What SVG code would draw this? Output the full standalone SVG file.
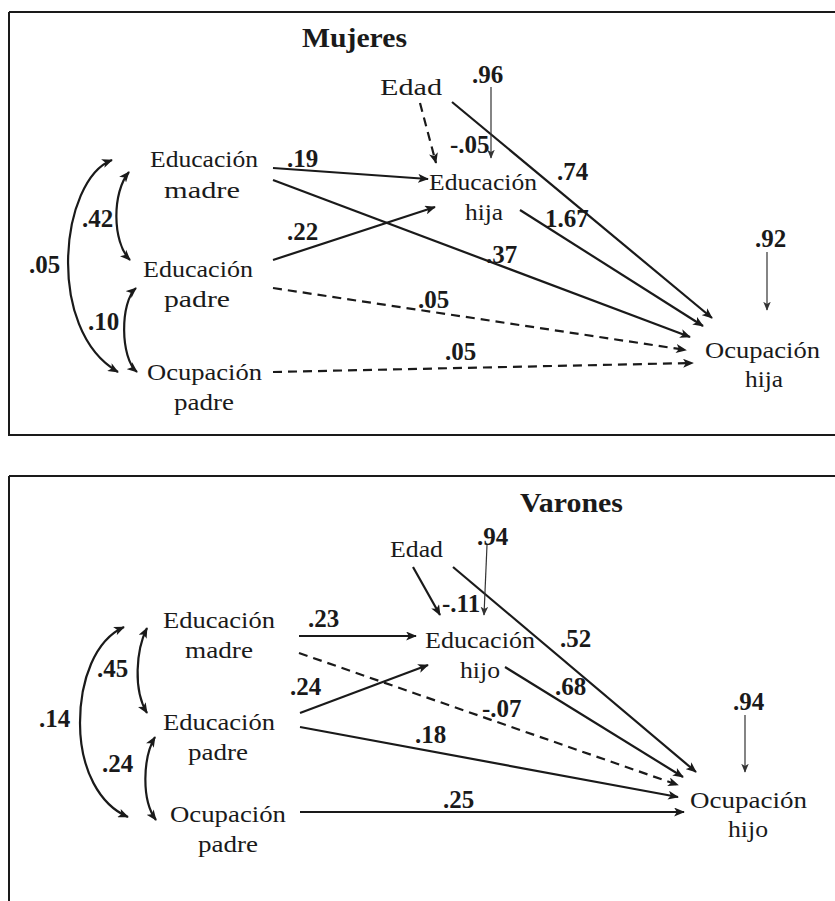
<svg xmlns="http://www.w3.org/2000/svg" width="835" height="901" viewBox="0 0 835 901">
<style>
.lbl{font-family:"Liberation Serif","Times New Roman",serif;font-size:23px;fill:#1a1a1a}
.num{font-family:"Liberation Serif","Times New Roman",serif;font-size:25px;font-weight:bold;fill:#1a1a1a}
.ttl{font-family:"Liberation Serif","Times New Roman",serif;font-size:28px;font-weight:bold;fill:#1a1a1a}
.frame{fill:none;stroke:#1a1a1a;stroke-width:2}
.e{fill:none;stroke:#1a1a1a;stroke-width:2.2}
.d{fill:none;stroke:#1a1a1a;stroke-width:2.2;stroke-dasharray:9 6}
.t{fill:none;stroke:#333;stroke-width:1.2}
</style>
<defs>
<marker id="ah" viewBox="0 0 12 10" markerWidth="11" markerHeight="9" refX="11" refY="5" orient="auto-start-reverse" markerUnits="userSpaceOnUse">
<path d="M0,0 L12,5 L0,10 L3,5 z" fill="#1a1a1a"/>
</marker>
<marker id="ahs" viewBox="0 0 12 10" markerWidth="9" markerHeight="8" refX="11" refY="5" orient="auto" markerUnits="userSpaceOnUse">
<path d="M0,0 L12,5 L0,10 L3,5 z" fill="#333"/>
</marker>
</defs>
<rect width="835" height="901" fill="#fff"/>

<!-- frames -->
<g id="frames">
<path class="frame" d="M9,12 H835 M9,12 V435 H835"/>
<path class="frame" d="M9,476 H835 M9,476 V901"/>
</g>

<!-- ===== Mujeres panel ===== -->
<g id="title-mujeres"><text class="ttl" x="302" y="47" textLength="105" lengthAdjust="spacingAndGlyphs">Mujeres</text></g>

<g id="m-edad"><text class="lbl" x="380" y="95" textLength="62" lengthAdjust="spacingAndGlyphs">Edad</text></g>
<g id="m-edu-madre">
<text class="lbl" x="150" y="167" textLength="108" lengthAdjust="spacingAndGlyphs">Educación</text>
<text class="lbl" x="164" y="198" textLength="76" lengthAdjust="spacingAndGlyphs">madre</text>
</g>
<g id="m-edu-padre">
<text class="lbl" x="143" y="277" textLength="110" lengthAdjust="spacingAndGlyphs">Educación</text>
<text class="lbl" x="164" y="307" textLength="66" lengthAdjust="spacingAndGlyphs">padre</text>
</g>
<g id="m-ocu-padre">
<text class="lbl" x="147" y="380" textLength="115" lengthAdjust="spacingAndGlyphs">Ocupación</text>
<text class="lbl" x="174" y="410" textLength="60" lengthAdjust="spacingAndGlyphs">padre</text>
</g>
<g id="m-edu-hija">
<text class="lbl" x="429" y="190" textLength="108" lengthAdjust="spacingAndGlyphs">Educación</text>
<text class="lbl" x="465" y="220" textLength="38" lengthAdjust="spacingAndGlyphs">hija</text>
</g>
<g id="m-ocu-hija">
<text class="lbl" x="705" y="358" textLength="115" lengthAdjust="spacingAndGlyphs">Ocupación</text>
<text class="lbl" x="745" y="387" textLength="38" lengthAdjust="spacingAndGlyphs">hija</text>
</g>

<g id="m-connectors">
<path class="e" d="M112,160 C60,180 45,330 118,372" marker-start="url(#ah)" marker-end="url(#ah)"/>
<path class="e" d="M129,172 C112,192 112,242 130,260" marker-start="url(#ah)" marker-end="url(#ah)"/>
<path class="e" d="M136,288 C120,302 120,358 137,372" marker-start="url(#ah)" marker-end="url(#ah)"/>
<path class="e" d="M273,168 L428,179" marker-end="url(#ah)"/>
<path class="e" d="M273,180 L690,337" marker-end="url(#ah)"/>
<path class="e" d="M273,260 L435,207" marker-end="url(#ah)"/>
<path class="d" d="M273,288 L686,350" marker-end="url(#ah)"/>
<path class="d" d="M273,372 L693,363" marker-end="url(#ah)"/>
<path class="d" d="M420,103 L436,163" marker-end="url(#ah)"/>
<path class="e" d="M452,102 L712,318" marker-end="url(#ah)"/>
<path class="e" d="M520,210 L703,326" marker-end="url(#ah)"/>
<path class="t" d="M491,87 L491,158" marker-end="url(#ahs)"/>
<path class="t" d="M767,252 L767,310" marker-end="url(#ahs)"/>
</g>

<g id="m-labels">
<text class="num" x="29" y="273">.05</text>
<text class="num" x="82" y="227">.42</text>
<text class="num" x="88" y="330">.10</text>
<text class="num" x="287" y="167">.19</text>
<text class="num" x="287" y="240">.22</text>
<text class="num" x="486" y="263">.37</text>
<text class="num" x="418" y="308">.05</text>
<text class="num" x="445" y="360">.05</text>
<text class="num" x="450" y="153">-.05</text>
<text class="num" x="472" y="83">.96</text>
<text class="num" x="557" y="180">.74</text>
<text class="num" x="545" y="227">1.67</text>
<text class="num" x="755" y="247">.92</text>
</g>

<!-- ===== Varones panel ===== -->
<g id="title-varones"><text class="ttl" x="520" y="512" textLength="103" lengthAdjust="spacingAndGlyphs">Varones</text></g>

<g id="v-edad"><text class="lbl" x="390" y="557" textLength="53" lengthAdjust="spacingAndGlyphs">Edad</text></g>
<g id="v-edu-madre">
<text class="lbl" x="163" y="628" textLength="112" lengthAdjust="spacingAndGlyphs">Educación</text>
<text class="lbl" x="185" y="658" textLength="68" lengthAdjust="spacingAndGlyphs">madre</text>
</g>
<g id="v-edu-padre">
<text class="lbl" x="163" y="730" textLength="112" lengthAdjust="spacingAndGlyphs">Educación</text>
<text class="lbl" x="188" y="760" textLength="60" lengthAdjust="spacingAndGlyphs">padre</text>
</g>
<g id="v-ocu-padre">
<text class="lbl" x="170" y="822" textLength="116" lengthAdjust="spacingAndGlyphs">Ocupación</text>
<text class="lbl" x="198" y="852" textLength="60" lengthAdjust="spacingAndGlyphs">padre</text>
</g>
<g id="v-edu-hijo">
<text class="lbl" x="425" y="648" textLength="110" lengthAdjust="spacingAndGlyphs">Educación</text>
<text class="lbl" x="460" y="678" textLength="40" lengthAdjust="spacingAndGlyphs">hijo</text>
</g>
<g id="v-ocu-hijo">
<text class="lbl" x="690" y="808" textLength="117" lengthAdjust="spacingAndGlyphs">Ocupación</text>
<text class="lbl" x="728" y="837" textLength="40" lengthAdjust="spacingAndGlyphs">hijo</text>
</g>

<g id="v-connectors">
<path class="e" d="M124,627 C95,640 80,680 80,723 C80,770 100,805 128,817" marker-start="url(#ah)" marker-end="url(#ah)"/>
<path class="e" d="M147,628 C136,650 133,690 147,713" marker-start="url(#ah)" marker-end="url(#ah)"/>
<path class="e" d="M155,737 C143,757 141,800 156,820" marker-start="url(#ah)" marker-end="url(#ah)"/>
<path class="e" d="M299,636 L416,636" marker-end="url(#ah)"/>
<path class="d" d="M299,653 L678,785" marker-end="url(#ah)"/>
<path class="e" d="M300,713 L428,665" marker-end="url(#ah)"/>
<path class="e" d="M300,727 L678,797" marker-end="url(#ah)"/>
<path class="e" d="M300,812 L684,812" marker-end="url(#ah)"/>
<path class="e" d="M413,567 L440,615" marker-end="url(#ah)"/>
<path class="e" d="M453,567 L696,772" marker-end="url(#ah)"/>
<path class="e" d="M505,667 L683,777" marker-end="url(#ah)"/>
<path class="t" d="M487,545 L484,615" marker-end="url(#ahs)"/>
<path class="t" d="M745,715 L745,772" marker-end="url(#ahs)"/>
</g>

<g id="v-labels">
<text class="num" x="39" y="727">.14</text>
<text class="num" x="97" y="677">.45</text>
<text class="num" x="102" y="772">.24</text>
<text class="num" x="308" y="627">.23</text>
<text class="num" x="290" y="695">.24</text>
<text class="num" x="415" y="743">.18</text>
<text class="num" x="443" y="808">.25</text>
<text class="num" x="482" y="717">-.07</text>
<text class="num" x="442" y="612">-.11</text>
<text class="num" x="477" y="545">.94</text>
<text class="num" x="560" y="647">.52</text>
<text class="num" x="555" y="695">.68</text>
<text class="num" x="733" y="710">.94</text>
</g>
</svg>
